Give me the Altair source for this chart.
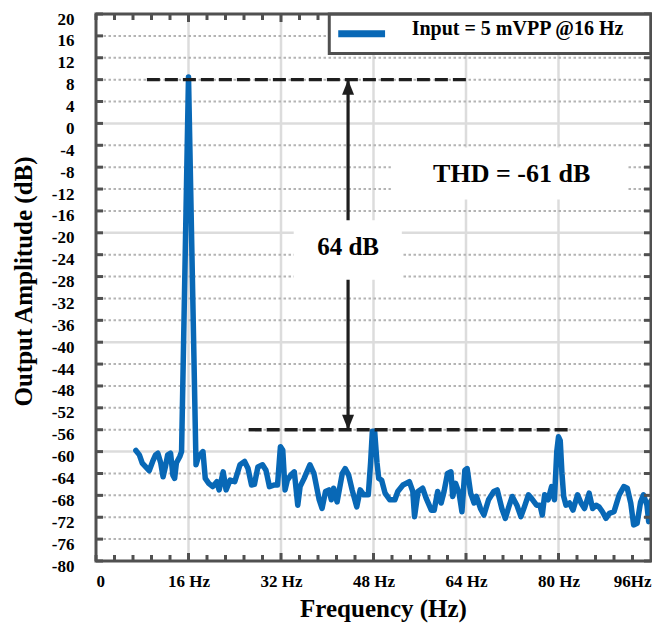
import altair as alt
import pandas as pd

# ---------------- data ----------------
freq = [6.9, 7.5, 8.0, 8.6, 9.2, 9.8, 10.3, 10.7, 11.2, 11.6, 12.0, 12.4, 12.9, 13.3, 13.6,
        13.9, 14.5, 14.8, 16.0, 17.3, 17.7, 18.5, 18.9, 19.5, 20.2, 20.9, 21.3, 22.0, 22.5,
        23.2, 24.0, 24.9, 25.7, 26.3, 26.9, 27.4, 28.0, 28.8, 29.4, 30.0, 30.9, 31.4, 31.9,
        32.3, 32.7, 33.1, 33.7, 34.3, 34.9, 35.3, 36.0, 37.0, 37.7, 38.6, 39.1, 39.7, 40.3,
        40.7, 41.1, 41.7, 42.6, 43.1, 43.7, 44.3, 45.1, 45.7, 46.3, 47.1, 47.5, 47.8, 48.2,
        48.6, 48.9, 49.4, 50.0, 50.8, 51.7, 52.2, 53.1, 54.2, 54.8, 55.1, 55.7, 56.5, 57.1,
        58.0, 58.5, 59.1, 59.7, 60.2, 60.8, 61.4, 61.7, 62.2, 62.8, 63.3, 63.8, 64.2, 64.8,
        65.4, 65.8, 66.5, 67.1, 67.9, 68.8, 69.4, 70.2, 70.8, 71.4, 72.0, 72.8, 73.5, 74.1,
        74.8, 75.3, 76.2, 76.8, 77.2, 77.6, 78.2, 78.8, 79.3, 79.7, 80.0, 80.3, 80.6, 80.9,
        81.3, 81.9, 82.5, 83.3, 83.9, 84.5, 85.3, 85.9, 86.5, 87.0, 87.6, 88.2, 88.8, 89.6,
        90.5, 91.3, 91.9, 92.5, 93.0, 93.6, 94.2, 94.7, 95.3, 95.6, 96.0]
amp = [-59.8, -60.6, -62.1, -62.8, -63.5, -61.8, -60.6, -60.3, -62.1, -64.6, -62.8, -60.6,
       -60.3, -64.3, -64.9, -62.1, -60.9, -60.0, 8.5, -62.4, -61.0, -60.0, -64.9, -65.8,
       -66.4, -65.5, -67.0, -63.7, -67.0, -65.2, -65.5, -62.4, -61.8, -63.1, -66.1, -66.0,
       -62.8, -62.4, -63.4, -66.4, -66.1, -66.1, -59.1, -59.7, -67.0, -65.2, -64.3, -63.7,
       -69.8, -66.4, -64.9, -62.4, -64.0, -68.8, -70.4, -67.3, -67.0, -68.8, -66.7, -69.2,
       -64.0, -63.1, -64.3, -67.0, -70.1, -67.0, -67.9, -67.9, -62.0, -56.3, -56.3, -62.0,
       -64.9, -65.2, -67.6, -68.8, -68.8, -67.3, -66.1, -65.5, -67.3, -71.9, -67.3, -66.7,
       -68.5, -70.7, -70.7, -67.3, -69.4, -67.3, -64.0, -63.7, -68.2, -65.8, -67.6, -71.0,
       -63.4, -63.1, -67.6, -69.4, -68.2, -70.4, -71.6, -68.8, -67.3, -67.0, -70.4, -72.2,
       -70.1, -68.2, -69.8, -71.9, -70.1, -67.9, -68.5, -69.8, -69.8, -71.6, -67.9, -68.8,
       -66.4, -68.8, -60.0, -57.3, -58.0, -64.0, -68.2, -69.8, -69.4, -70.7, -67.9, -69.4,
       -70.4, -67.6, -70.4, -69.8, -70.1, -71.0, -72.2, -71.3, -71.0, -67.9, -66.4, -66.7,
       -69.4, -73.4, -73.1, -69.2, -67.9, -69.8, -72.8, -69.0]

x_domain = [0, 96]
y_domain = [-80, 20]
x_labels = [0, 16, 32, 48, 64, 80, 96]
x_grid = [16, 32, 48, 64, 80]
x_minor = [0, 3.2, 6.4, 9.6, 12.8, 19.2, 22.4, 25.6, 28.8, 35.2, 38.4, 41.6, 44.8,
           51.2, 54.4, 57.6, 60.8, 67.2, 70.4, 73.6, 76.8, 83.2, 86.4, 89.6, 92.8]
x_major = [16, 32, 48, 64, 80]
y_ticks = [20, 16, 12, 8, 4, 0, -4, -8, -12, -16, -20, -24, -28, -32, -36, -40, -44,
           -48, -52, -56, -60, -64, -68, -72, -76, -80]
y_solid = [0, -20, -40, -60]
y_dotted = [16, 12, 8, 4, -4, -8, -12, -16, -24, -28, -32, -36, -44, -48, -52, -56,
            -64, -68, -72, -76]

# annotations
dash_x1 = [8.8, 26.4]
dash_x2 = [64.7, 82.4]
dash_y = [8, -56]
arrow_x = [43.6]
arrow_top = [8]
arrow_bottom = [-56]
box_x1 = [34.2, 51.0]
box_x2 = [52.9, 91.9]
box_y1 = [-17.7, -4.4]
box_y2 = [-28.6, -13.9]
note_text = ["64 dB", "THD = -61 dB"]
note_x = [43.6, 71.9]
note_y = [-22.6, -9.3]
note_size = [25, 26]
legend_label = ["Input = 5 mVPP @16 Hz"]
legend_box = {"x1": [40.35], "x2": [96], "y1": [12.8], "y2": [20]}
legend_line = {"x1": [41.9], "x2": [50.0], "y": [16.4]}
legend_text_pos = {"x": [54.6], "y": [17.2]}

# ---------------- chart ----------------
W, H = 555, 547
BLUE = "#0868b6"
FRAME = "#505050"
FONT = "Liberation Serif"

xs = alt.Scale(domain=x_domain, nice=False, zero=False)
ys = alt.Scale(domain=y_domain, nice=False, zero=False)

x_axis = alt.Axis(values=x_labels,
                  labelExpr="datum.value == 0 ? '0' : (datum.value == 96 ? '96Hz' : datum.value + ' Hz')",
                  ticks=False, tickSize=0, domain=False, grid=False,
                  labelPadding=12, labelFontSize=17, labelFontWeight="bold",
                  labelFont=FONT, labelColor="black",
                  title="Frequency (Hz)", titleFont=FONT, titleFontSize=25,
                  titleFontWeight="bold", titleColor="black",
                  titleX=287, titleY=47, titleBaseline="middle", titleAlign="center")
y_axis = alt.Axis(values=y_ticks, labelExpr="'' + datum.value",
                  ticks=False, tickSize=0, domain=False, grid=False,
                  labelPadding=22, labelOffset=5, labelFontSize=17,
                  labelFontWeight="bold", labelFont=FONT, labelColor="black",
                  title="Output Amplitude (dB)", titleFont=FONT, titleFontSize=25,
                  titleFontWeight="bold", titleColor="black",
                  titleX=-73, titleY=267, titleBaseline="middle", titleAlign="center",
                  titleAngle=270)


def X(f):
    return alt.X(f, type="quantitative", scale=xs, axis=x_axis)


def Y(f):
    return alt.Y(f, type="quantitative", scale=ys, axis=y_axis)


df = pd.DataFrame({"freq": freq, "amp": amp})

grid_v = alt.Chart(pd.DataFrame({"g": x_grid})).mark_rule(
    color="#dcdcdc", strokeWidth=2.5).encode(x=X("g"))
grid_solid = alt.Chart(pd.DataFrame({"g": y_solid})).mark_rule(
    color="#dcdcdc", strokeWidth=2.5).encode(y=Y("g"))
grid_dot = alt.Chart(pd.DataFrame({"g": y_dotted})).mark_rule(
    color="#b4b4b4", strokeWidth=2, strokeDash=[2.5, 2.5]).encode(y=Y("g"))

line = alt.Chart(df).mark_line(
    color=BLUE, strokeWidth=5.5, strokeJoin="round", strokeCap="round").encode(
    x=X("freq"), y=Y("amp"))

dashes = alt.Chart(pd.DataFrame({"x1": dash_x1, "x2": dash_x2, "y": dash_y})).mark_rule(
    color="#1e1e1e", strokeWidth=3.4, strokeDash=[13, 5]).encode(
    x=X("x1"), x2="x2", y=Y("y"))

arrow_df = pd.DataFrame({"x": arrow_x, "top": arrow_top, "bottom": arrow_bottom})
arrow_line = alt.Chart(arrow_df).mark_rule(color="#1e1e1e", strokeWidth=3.2).encode(
    x=X("x"), y=Y("top"), y2="bottom")
arrow_up = alt.Chart(arrow_df).mark_point(
    shape="M0,0L-0.8,2L0.8,2Z", size=225, filled=True, color="#1e1e1e", opacity=1).encode(
    x=X("x"), y=Y("top"))
arrow_down = alt.Chart(arrow_df).mark_point(
    shape="M0,0L-0.8,-2L0.8,-2Z", size=225, filled=True, color="#1e1e1e", opacity=1).encode(
    x=X("x"), y=Y("bottom"))

boxes = alt.Chart(pd.DataFrame({"x1": box_x1, "x2": box_x2, "y1": box_y1, "y2": box_y2})).mark_rect(
    color="white").encode(x=X("x1"), x2="x2", y=Y("y1"), y2="y2")

notes = alt.Chart(pd.DataFrame({"t": note_text, "x": note_x, "y": note_y, "s": note_size})).mark_text(
    font=FONT, fontWeight="bold", color="black", align="center", baseline="middle").encode(
    x=X("x"), y=Y("y"), text="t:N", size=alt.Size("s:Q", scale=None, legend=None))

tick_df = pd.DataFrame({"x": x_minor})
major_df = pd.DataFrame({"x": x_major})
ytick_df = pd.DataFrame({"y": y_ticks})
tk = dict(color=FRAME, strokeWidth=3)
ticks_bottom = alt.Chart(tick_df).mark_rule(**tk).encode(
    x=X("x"), y=alt.value(H), y2=alt.value(H - 6))
ticks_top = alt.Chart(tick_df).mark_rule(**tk).encode(
    x=X("x"), y=alt.value(0), y2=alt.value(6))
major_bottom = alt.Chart(major_df).mark_rule(**tk).encode(
    x=X("x"), y=alt.value(H), y2=alt.value(H - 8))
major_top = alt.Chart(major_df).mark_rule(**tk).encode(
    x=X("x"), y=alt.value(0), y2=alt.value(8))
ticks_left = alt.Chart(ytick_df).mark_rule(**tk).encode(
    y=Y("y"), x=alt.value(0), x2=alt.value(7))
ticks_right = alt.Chart(ytick_df).mark_rule(**tk).encode(
    y=Y("y"), x=alt.value(W), x2=alt.value(W - 7))

leg_box = alt.Chart(pd.DataFrame(legend_box)).mark_rect(
    fill="white", stroke=FRAME, strokeWidth=3).encode(
    x=X("x1"), x2="x2", y=Y("y1"), y2="y2")
leg_line = alt.Chart(pd.DataFrame(legend_line)).mark_rule(
    color=BLUE, strokeWidth=7).encode(x=X("x1"), x2="x2", y=Y("y"))
leg_text = alt.Chart(pd.DataFrame({"t": legend_label, **legend_text_pos})).mark_text(
    font=FONT, fontWeight="bold", fontSize=20, color="black", align="left",
    baseline="middle").encode(x=X("x"), y=Y("y"), text="t:N")

frame = alt.Chart(pd.DataFrame({"x1": [x_domain[0]], "x2": [x_domain[1]],
                                "y1": [y_domain[0]], "y2": [y_domain[1]]})).mark_rect(
    fill=None, fillOpacity=0, stroke=FRAME, strokeWidth=3).encode(
    x=X("x1"), x2="x2", y=Y("y1"), y2="y2")

chart = alt.layer(
    grid_v, grid_solid, grid_dot, line, dashes, arrow_line, arrow_up, arrow_down,
    boxes, notes, ticks_bottom, ticks_top, major_bottom, major_top, ticks_left,
    ticks_right, leg_box, leg_line, leg_text, frame
).properties(
    width=W, height=H,
    autosize=alt.AutoSizeParams(type="none"),
    padding={"left": 88, "top": 6, "right": 1, "bottom": 64},
    background="white",
).configure_view(stroke=None)

chart.save("out.html", embed_options={"renderer": "svg", "actions": False})
